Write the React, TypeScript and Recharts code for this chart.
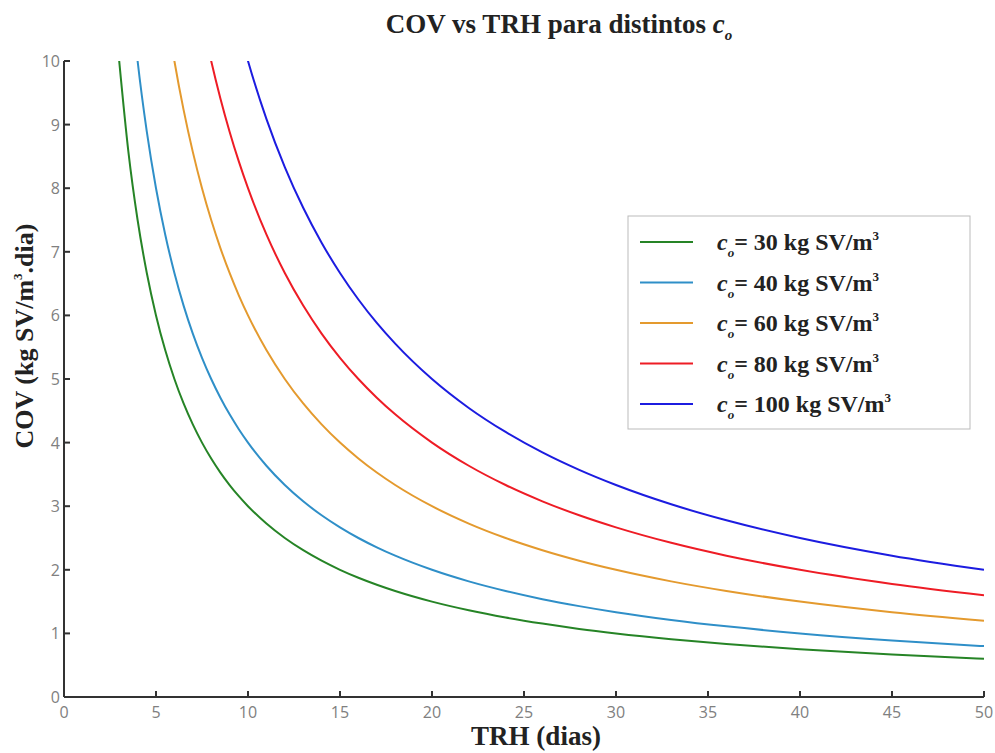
import React from "react";
import { LineChart, Line, XAxis, YAxis } from "recharts";

const trh = [3, 3.5, 4, 4.5, 5, 5.5, 6, 6.5, 7, 7.5, 8, 8.5, 9, 9.5, 10, 11, 12, 13, 14, 15, 16, 17, 18, 20, 22, 24, 26, 28, 30, 33, 36, 40, 45, 50];
const cov30 = [10, 8.571, 7.5, 6.667, 6, 5.455, 5, 4.615, 4.286, 4, 3.75, 3.529, 3.333, 3.158, 3, 2.727, 2.5, 2.308, 2.143, 2, 1.875, 1.765, 1.667, 1.5, 1.364, 1.25, 1.154, 1.071, 1, 0.909, 0.833, 0.75, 0.667, 0.6];
const cov40 = [13.33, 11.43, 10, 8.889, 8, 7.273, 6.667, 6.154, 5.714, 5.333, 5, 4.706, 4.444, 4.211, 4, 3.636, 3.333, 3.077, 2.857, 2.667, 2.5, 2.353, 2.222, 2, 1.818, 1.667, 1.538, 1.429, 1.333, 1.212, 1.111, 1, 0.889, 0.8];
const cov60 = [20, 17.14, 15, 13.33, 12, 10.91, 10, 9.231, 8.571, 8, 7.5, 7.059, 6.667, 6.316, 6, 5.455, 5, 4.615, 4.286, 4, 3.75, 3.529, 3.333, 3, 2.727, 2.5, 2.308, 2.143, 2, 1.818, 1.667, 1.5, 1.333, 1.2];
const cov80 = [26.67, 22.86, 20, 17.78, 16, 14.55, 13.33, 12.31, 11.43, 10.67, 10, 9.412, 8.889, 8.421, 8, 7.273, 6.667, 6.154, 5.714, 5.333, 5, 4.706, 4.444, 4, 3.636, 3.333, 3.077, 2.857, 2.667, 2.424, 2.222, 2, 1.778, 1.6];
const cov100 = [33.33, 28.57, 25, 22.22, 20, 18.18, 16.67, 15.38, 14.29, 13.33, 12.5, 11.76, 11.11, 10.53, 10, 9.091, 8.333, 7.692, 7.143, 6.667, 6.25, 5.882, 5.556, 5, 4.545, 4.167, 3.846, 3.571, 3.333, 3.03, 2.778, 2.5, 2.222, 2];

const xTicks = [0, 5, 10, 15, 20, 25, 30, 35, 40, 45, 50];
const yTicks = [0, 1, 2, 3, 4, 5, 6, 7, 8, 9, 10];

const seriesKeys = ["c30", "c40", "c60", "c80", "c100"];
const seriesValues = ["30", "40", "60", "80", "100"];
const seriesColors = ["#268426", "#2f8fc8", "#e49a2e", "#ee1c25", "#1c1ce0"];

const data = trh.map((t, i) => ({
  trh: t,
  c30: cov30[i],
  c40: cov40[i],
  c60: cov60[i],
  c80: cov80[i],
  c100: cov100[i],
}));

const W = 995;
const H = 753;
const serif = "'Liberation Serif', 'Times New Roman', serif";
const sans = "'Open Sans', sans-serif";
const axisStroke = { stroke: "#333", strokeWidth: 2 };
const TL = 6;

const BottomTick = (p: any) => (
  <g>
    <line x1={p.x} x2={p.x} y1={p.y} y2={p.y - TL} stroke="#333" strokeWidth={2} />
    <text x={p.x} y={p.y + 21} textAnchor="middle" fontFamily={sans} fontSize={16} fill="#808080">
      {p.payload.value}
    </text>
  </g>
);
const TopTick = (p: any) => (
  <line x1={p.x} x2={p.x} y1={p.y} y2={p.y + TL} stroke="#333" strokeWidth={2} />
);
const LeftTick = (p: any) => (
  <g>
    <line x1={p.x} x2={p.x + TL} y1={p.y} y2={p.y} stroke="#333" strokeWidth={2} />
    <text x={p.x - 4} y={p.y + 6} textAnchor="end" fontFamily={sans} fontSize={16} fill="#808080">
      {p.payload.value}
    </text>
  </g>
);
const RightTick = (p: any) => (
  <line x1={p.x} x2={p.x - TL} y1={p.y} y2={p.y} stroke="#333" strokeWidth={2} />
);

export default function App() {
  return (
    <div style={{ position: "absolute", left: 0, top: 0, width: W, height: H, background: "#fff" }}>
      <LineChart width={W} height={H} data={data} margin={{ top: 61, right: 11, left: 0, bottom: 0 }}>
        <XAxis
          dataKey="trh"
          type="number"
          domain={[0, 50]}
          ticks={xTicks}
          allowDataOverflow
          height={56}
          tickSize={0}
          tickMargin={0}
          tick={BottomTick}
          tickLine={false}
          axisLine={axisStroke}
        />
        <XAxis
          xAxisId="top"
          orientation="top"
          dataKey="trh"
          type="number"
          domain={[0, 50]}
          ticks={xTicks}
          allowDataOverflow
          height={0}
          tickSize={0}
          tickMargin={0}
          tick={TopTick}
          tickLine={false}
          axisLine={axisStroke}
        />
        <YAxis
          type="number"
          domain={[0, 10]}
          ticks={yTicks}
          allowDataOverflow
          width={64}
          tickSize={0}
          tickMargin={0}
          tick={LeftTick}
          tickLine={false}
          axisLine={axisStroke}
        />
        <YAxis
          yAxisId="right"
          orientation="right"
          type="number"
          domain={[0, 10]}
          ticks={yTicks}
          allowDataOverflow
          width={0}
          tickSize={0}
          tickMargin={0}
          tick={RightTick}
          tickLine={false}
          axisLine={axisStroke}
        />
        {seriesKeys.map((k, i) => (
          <Line
            key={k}
            dataKey={k}
            type="monotone"
            stroke={seriesColors[i]}
            strokeWidth={2}
            dot={false}
            activeDot={false}
            isAnimationActive={false}
          />
        ))}
      </LineChart>
      <svg
        width={W}
        height={H}
        style={{ position: "absolute", left: 0, top: 0, pointerEvents: "none" }}
      >
        <text x={559} y={33} textAnchor="middle" fontFamily={serif} fontWeight="bold" fontSize={27} fill="#222">
          COV vs TRH para distintos <tspan fontStyle="italic">c</tspan>
          <tspan fontStyle="italic" fontSize={15} dy={7}>o</tspan>
        </text>
        <text x={536} y={745} textAnchor="middle" fontFamily={serif} fontWeight="bold" fontSize={27} fill="#222">
          TRH (dias)
        </text>
        <text
          x={0}
          y={0}
          transform="translate(33,336) rotate(-90)"
          textAnchor="middle"
          fontFamily={serif}
          fontWeight="bold"
          fontSize={26}
          fill="#222"
        >
          COV (kg SV/m<tspan fontSize={13} dy={-11}>3</tspan>
          <tspan dy={11}>.dia)</tspan>
        </text>
        <rect x={628} y={216} width={342} height={213} fill="#fff" stroke="#bbb" strokeWidth={1} />
        {seriesKeys.map((k, i) => {
          const y = 242 + i * 40.5;
          return (
            <g key={k}>
              <line x1={640} x2={693} y1={y} y2={y} stroke={seriesColors[i]} strokeWidth={2} />
              <text x={717} y={y + 8} fontFamily={serif} fontWeight="bold" fontSize={24} fill="#222">
                <tspan fontStyle="italic">c</tspan>
                <tspan fontStyle="italic" fontSize={13} dy={7}>o</tspan>
                <tspan dy={-7}>{"= " + seriesValues[i] + " kg SV/m"}</tspan>
                <tspan fontSize={13} dy={-10}>3</tspan>
              </text>
            </g>
          );
        })}
      </svg>
    </div>
  );
}
